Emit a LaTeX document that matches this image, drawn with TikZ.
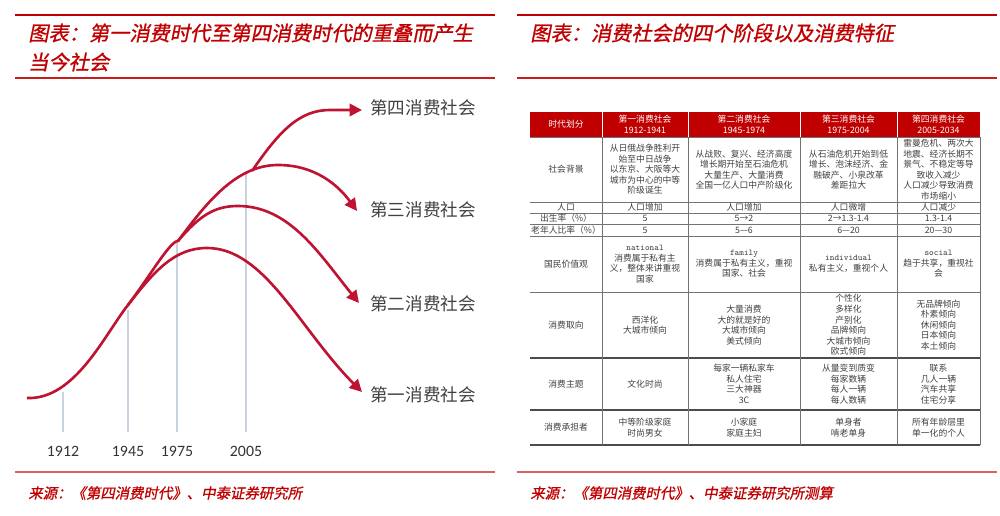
\documentclass[tikz,border=0pt]{standalone}
\usepackage{fontspec}
\setmainfont{Noto Sans CJK SC}
\newfontfamily\titlefont[FakeSlant=0.2,FakeBold=1]{Noto Sans CJK SC}
\newfontfamily\yearfont{Carlito}
\usetikzlibrary{arrows.meta}
\definecolor{hdred}{RGB}{192,0,0}
\definecolor{curvered}{RGB}{190,20,50}
\definecolor{linered}{RGB}{200,30,30}
\definecolor{vline}{RGB}{200,210,225}
\tikzset{
  titletxt/.style={anchor=west,inner sep=0pt,text=hdred,font=\titlefont\fontsize{11.5}{13}\selectfont},
  srctxt/.style={anchor=west,inner sep=0pt,text=hdred,font=\titlefont\fontsize{8.2}{9}\selectfont},
  curve/.style={curvered,line width=1.5pt,-{Triangle[length=7pt,width=7pt]}},
  label/.style={anchor=west,inner sep=0pt,text=black!75,font=\fontsize{10}{11}\selectfont},
  yr/.style={inner sep=0pt,text=black!80,font=\yearfont\fontsize{9}{9}\selectfont},
  cell/.style={align=center,inner sep=0pt,text=black!75,font=\fontsize{5}{6}\selectfont},
  hcell/.style={align=center,inner sep=0pt,text=white,font=\fontsize{5}{6}\selectfont},
  grid/.style={black!55,line width=0.3pt},
}
\begin{document}
\begin{tikzpicture}[x=0.02cm,y=-0.02cm]
\useasboundingbox (0,0) rectangle (1000,516);
% ---------- left panel ----------
\draw[hdred,line width=1.4pt] (15,15) -- (495,15);
\node[titletxt] (lt1) at (28,33) {图表：第一消费时代至第四消费时代的重叠而产生};
\node[titletxt] (lt2) at (28,62) {当今社会};
\draw[linered,line width=0.6pt] (15,78) -- (495,78);
% verticals
\foreach \x/\t/\n in {63/392/1912,128/310/1945,177/243/1975,246/173/2005}{
  \draw[vline,line width=0.6pt] (\x,\t) -- (\x,432);
  \node[yr] (y\n) at (\x,451) {\n};
}
\coordinate (s) at (27,398);
\coordinate (b2) at (128,305);
\coordinate (b3) at (178,241);
\coordinate (b4) at (252,171);
\node[label] (l4) at (370,108) {第四消费社会};
\node[label] (l3) at (370,210) {第三消费社会};
\node[label] (l2) at (370,304) {第二消费社会};
\node[label] (l1) at (370,395) {第一消费社会};
\coordinate (e1) at (362,392);
\coordinate (e2) at (359,303);
\coordinate (e3) at (357,211);
\coordinate (e4) at (362,110);
\draw[curve] (s) .. controls (75,400) and (105,334) .. (b2) .. controls (155,270) and (175,248) .. (207,248) .. controls (265,248) and (300,330) .. (e1);
\draw[curve] (b2) .. controls (150,276) and (170,241) .. (b3) .. controls (200,215) and (215,206) .. (238,206) .. controls (290,206) and (320,255) .. (e2);
\draw[curve] (b3) .. controls (205,205) and (235,165) .. (278,165) .. controls (315,165) and (338,185) .. (e3);
\draw[curve] (b4) .. controls (280,130) and (300,110) .. (330,110) -- (e4);
\draw[linered!70,line width=0.8pt] (15,472) -- (495,472);
\node[srctxt] (ls) at (28,493) {来源：《第四消费时代》、中泰证券研究所};
% ---------- right panel ----------
\draw[hdred,line width=1.4pt] (517,15) -- (997,15);
\node[titletxt] (rt1) at (530,33) {图表：消费社会的四个阶段以及消费特征};
\draw[linered,line width=0.6pt] (517,78) -- (997,78);
% table
\fill[hdred] (530,112) rectangle (980,137);
\foreach \y in {137,202,213,224,236,292}{\draw[grid] (530,\y) -- (980,\y);}
\foreach \y in {358,410,445}{\draw[black!70,line width=0.6pt] (530,\y) -- (980,\y);}
\foreach \x in {602,688,800,897}{\draw[grid] (\x,137) -- (\x,445); \draw[white,line width=0.3pt] (\x,112) -- (\x,137);}
\draw[grid] (980,137) -- (980,445);
% header
\node[hcell] (h0) at (566,124.5) {时代划分};
\node[hcell] (h1) at (645,124.5) {第一消费社会\\1912-1941};
\node[hcell] (h2) at (744,124.5) {第二消费社会\\1945-1974};
\node[hcell] (h3) at (848.5,124.5) {第三消费社会\\1975-2004};
\node[hcell] (h4) at (938.5,124.5) {第四消费社会\\2005-2034};
% rows
\node[cell] (r1c0) at (566,169.5) {社会背景};
\node[cell] (r1c1) at (645,169.5) {从日俄战争胜利开\\始至中日战争\\以东京、大阪等大\\城市为中心的中等\\阶级诞生};
\node[cell] (r1c2) at (744,169.5) {从战败、复兴、经济高度\\增长期开始至石油危机\\大量生产、大量消费\\全国一亿人口中产阶级化};
\node[cell] (r1c3) at (848.5,169.5) {从石油危机开始到低\\增长、泡沫经济、金\\融破产、小泉改革\\差距拉大};
\node[cell] (r1c4) at (938.5,169.5) {雷曼危机、两次大\\地震、经济长期不\\景气、不稳定等导\\致收入减少\\人口减少导致消费\\市场缩小};
\node[cell] (r2c0) at (566,207.5) {人口};
\node[cell] (r2c1) at (645,207.5) {人口增加};
\node[cell] (r2c2) at (744,207.5) {人口增加};
\node[cell] (r2c3) at (848.5,207.5) {人口微增};
\node[cell] (r2c4) at (938.5,207.5) {人口减少};
\node[cell] (r3c0) at (566,218.5) {出生率（\%）};
\node[cell] (r3c1) at (645,218.5) {5};
\node[cell] (r3c2) at (744,218.5) {5→2};
\node[cell] (r3c3) at (848.5,218.5) {2→1.3-1.4};
\node[cell] (r3c4) at (938.5,218.5) {1.3-1.4};
\node[cell] (r4c0) at (566,230) {老年人比率（\%）};
\node[cell] (r4c1) at (645,230) {5};
\node[cell] (r4c2) at (744,230) {5—6};
\node[cell] (r4c3) at (848.5,230) {6—20};
\node[cell] (r4c4) at (938.5,230) {20—30};
\node[cell] (r5c0) at (566,264) {国民价值观};
\node[cell] (r5c1) at (645,264) {{\ttfamily national}\\消费属于私有主\\义，整体来讲重视\\国家};
\node[cell] (r5c2) at (744,264) {{\ttfamily family}\\消费属于私有主义，重视\\国家、社会};
\node[cell] (r5c3) at (848.5,264) {{\ttfamily individual}\\私有主义，重视个人};
\node[cell] (r5c4) at (938.5,264) {{\ttfamily social}\\趋于共享，重视社\\会};
\node[cell] (r6c0) at (566,325) {消费取向};
\node[cell] (r6c1) at (645,325) {西洋化\\大城市倾向};
\node[cell] (r6c2) at (744,325) {大量消费\\大的就是好的\\大城市倾向\\美式倾向};
\node[cell] (r6c3) at (848.5,325) {个性化\\多样化\\产别化\\品牌倾向\\大城市倾向\\欧式倾向};
\node[cell] (r6c4) at (938.5,325) {无品牌倾向\\朴素倾向\\休闲倾向\\日本倾向\\本土倾向};
\node[cell] (r7c0) at (566,384) {消费主题};
\node[cell] (r7c1) at (645,384) {文化时尚};
\node[cell] (r7c2) at (744,384) {每家一辆私家车\\私人住宅\\三大神器\\3C};
\node[cell] (r7c3) at (848.5,384) {从量变到质变\\每家数辆\\每人一辆\\每人数辆};
\node[cell] (r7c4) at (938.5,384) {联系\\几人一辆\\汽车共享\\住宅分享};
\node[cell] (r8c0) at (566,427.5) {消费承担者};
\node[cell] (r8c1) at (645,427.5) {中等阶级家庭\\时尚男女};
\node[cell] (r8c2) at (744,427.5) {小家庭\\家庭主妇};
\node[cell] (r8c3) at (848.5,427.5) {单身者\\啃老单身};
\node[cell] (r8c4) at (938.5,427.5) {所有年龄层里\\单一化的个人};
\draw[linered!70,line width=0.8pt] (517,472) -- (997,472);
\node[srctxt] (rs) at (530,493) {来源：《第四消费时代》、中泰证券研究所测算};
\end{tikzpicture}
\end{document}
